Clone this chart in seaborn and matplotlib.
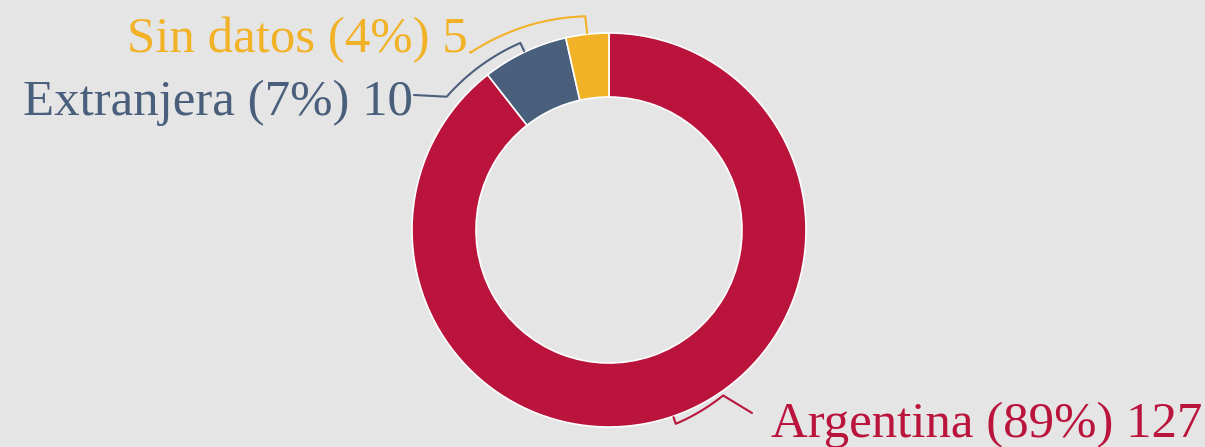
import numpy as np
import matplotlib
matplotlib.use("Agg")
import matplotlib.pyplot as plt
import seaborn as sns

categories = ["Argentina", "Extranjera", "Sin datos"]
values = [127, 10, 5]
percent_labels = ["89%", "7%", "4%"]
colors = ["#BA133C", "#4A5F7B", "#F2B228"]

sns.set_theme(style="white")
plt.rcParams["font.family"] = ["Liberation Serif", "DejaVu Serif"]
BG = "#E5E5E5"

W, H = 1205, 447
fig = plt.figure(figsize=(W / 100, H / 100), dpi=100, facecolor=BG)
ax = fig.add_axes([0, 0, 1, 1])
ax.set_facecolor(BG)

cx, cy, R, ring = 609, 217, 197, 64
wedges, _ = ax.pie(values, colors=colors, startangle=90, counterclock=False,
                   center=(cx, cy), radius=R,
                   wedgeprops=dict(width=ring, edgecolor="white", linewidth=1.2))

# label layout (image px coords: x, baseline y from top)
layout = {
    "Argentina": dict(elbow_ang=-55.4, r_tick=R + 8, r_arc=R + 4, end=(752, 413), text=(771, 437), ha="left"),
    "Extranjera": dict(elbow_ang=140.6, r_tick=R + 10, r_arc=R + 13, end=(414, 95), text=(413, 115), ha="right"),
    "Sin datos": dict(elbow_ang=128.0, r_tick=R + 18, r_arc=R + 28, end=(470, 52), text=(468, 52), ha="right"),
}

for w, cat, val, pct, col in zip(wedges, categories, values, percent_labels, colors):
    mid = 0.5 * (w.theta1 + w.theta2)
    L = layout[cat]
    el = L["elbow_ang"]
    el = mid + ((el - mid + 180) % 360 - 180)
    r0 = R + 1
    p0 = (cx + r0 * np.cos(np.radians(mid)), cy + r0 * np.sin(np.radians(mid)))
    angs = np.linspace(mid, el, 40)
    rr = np.linspace(L["r_tick"], L["r_arc"], 40)
    arc_x = cx + rr * np.cos(np.radians(angs))
    arc_y = cy + rr * np.sin(np.radians(angs))
    ex, ey = L["end"][0], H - L["end"][1]
    xs = [p0[0]] + list(arc_x) + [ex]
    ys = [p0[1]] + list(arc_y) + [ey]
    ax.plot(xs, ys, color=col, lw=1.5, solid_capstyle="round")
    tx, ty = L["text"][0], H - L["text"][1]
    ax.text(tx, ty, f"{cat} ({pct}) {val}", color=col, fontsize=36.6,
            ha=L["ha"], va="baseline")

ax.set_xlim(0, W)
ax.set_ylim(0, H)
ax.set_aspect("equal")
ax.axis("off")
fig.savefig("out.png", dpi=100, facecolor=BG)
